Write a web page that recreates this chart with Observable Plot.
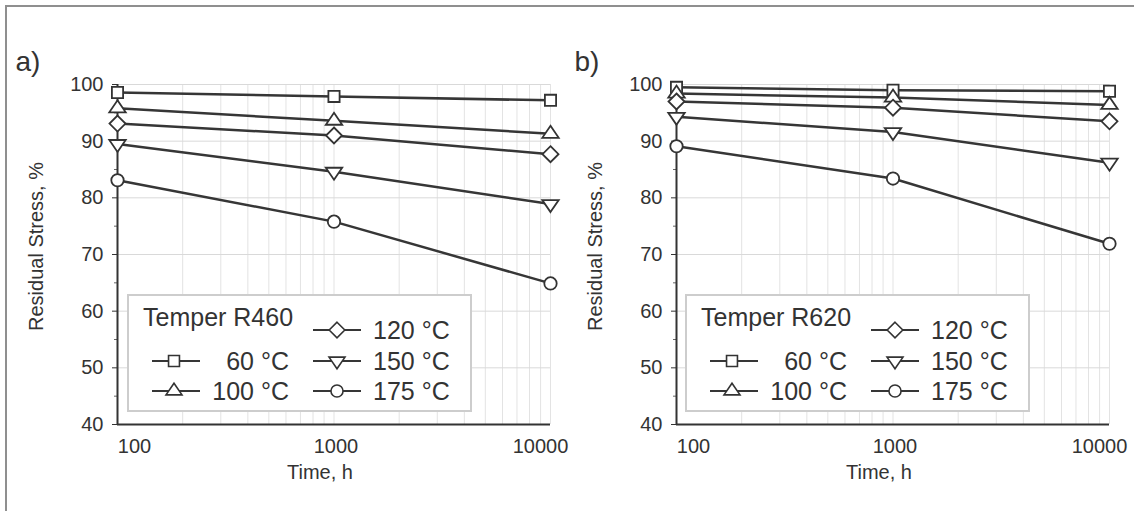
<!DOCTYPE html>
<html>
<head>
<meta charset="utf-8">
<script src="https://cdn.jsdelivr.net/npm/d3@7"></script>
<script src="https://cdn.jsdelivr.net/npm/@observablehq/plot@0.6"></script>
<style>
  html, body { margin: 0; padding: 0; background: #fff; }
  #wrap { position: relative; width: 1134px; height: 511px; overflow: hidden; background: #fff;
          font-family: "Liberation Sans", Arial, sans-serif; color: #333; }
  #wrap > svg { position: absolute; top: 0; }
  .frame { position: absolute; left: 5px; top: 5px; width: 1200px; height: 600px;
           border-left: 2px solid #8f8f8f; border-top: 2px solid #8f8f8f; pointer-events: none; }
</style>
</head>
<body>
<div id="wrap"></div>
<script>
// ---------------- data ----------------
const times = [100, 1000, 10000];
const temps = ["60 °C", "100 °C", "120 °C", "150 °C", "175 °C"];

// Temper R460 (panel a)
const r460_60  = [98.6, 97.9, 97.2];
const r460_100 = [95.8, 93.6, 91.3];
const r460_120 = [93.1, 91.0, 87.7];
const r460_150 = [89.5, 84.6, 78.9];
const r460_175 = [83.1, 75.8, 64.9];

// Temper R620 (panel b)
const r620_60  = [99.5, 99.0, 98.8];
const r620_100 = [98.4, 97.7, 96.4];
const r620_120 = [97.0, 95.9, 93.5];
const r620_150 = [94.3, 91.6, 86.2];
const r620_175 = [89.1, 83.4, 71.9];

const yTicks = [40, 50, 60, 70, 80, 90, 100];
const yMinorTicks = [45, 55, 65, 75, 85, 95];
const xTicks = [100, 1000, 10000];
const xTickLabels = ["100", "1000", "10000"];
const panelTags = ["a)", "b)"];
const legendTitles = ["Temper R460", "Temper R620"];
const xLabel = "Time, h";
const yLabel = "Residual Stress, %";

// ---------------- helpers ----------------
const FONT = '"Liberation Sans", Arial, sans-serif';
const INK = "#333";
const BASE = Math.PI * 36; // symbol area for r = 6
const kOf = size => Math.sqrt(size / BASE);
const symSquare = {draw(c, size) { const h = 5.6 * kOf(size); c.rect(-h, -h, 2 * h, 2 * h); }};
const symTriUp = {draw(c, size) { const k = kOf(size);
  c.moveTo(0, -8 * k); c.lineTo(8.2 * k, 4 * k); c.lineTo(-8.2 * k, 4 * k); c.closePath(); }};
const symTriDown = {draw(c, size) { const k = kOf(size);
  c.moveTo(0, 8 * k); c.lineTo(8.2 * k, -4 * k); c.lineTo(-8.2 * k, -4 * k); c.closePath(); }};
const symDiamond = {draw(c, size) { const h = 8 * kOf(size);
  c.moveTo(0, -h); c.lineTo(h, 0); c.lineTo(0, h); c.lineTo(-h, 0); c.closePath(); }};
const symCircle = {draw(c, size) { const r = 6.2 * kOf(size); c.moveTo(r, 0); c.arc(0, 0, r, 0, 2 * Math.PI); }};
const symbolRange = [symSquare, symTriUp, symDiamond, symTriDown, symCircle];

const xGrid = [];
for (const dec of [100, 1000]) for (let k = 2; k <= 10; k++) xGrid.push(k * dec);
const xTickDx = [17, 2, -10];

function panel(series, tag, width, marginLeft, marginRight) {
  const rows = series.flatMap((vals, i) =>
    vals.map((v, j) => ({time: times[j], stress: v, temp: temps[i]})));
  return Plot.plot({
    width, height: 511,
    marginLeft, marginRight, marginTop: 84, marginBottom: 87,
    style: {fontFamily: FONT, fontSize: "20px", color: INK, background: "transparent", overflow: "visible"},
    x: {type: "log", domain: [100, 10000]},
    y: {domain: [40, 100]},
    symbol: {domain: temps, range: symbolRange},
    marks: [
      Plot.gridX(xGrid, {stroke: "#e3e3e3", strokeOpacity: 1, strokeWidth: 1}),
      Plot.gridY(yTicks, {stroke: "#d9d9d9", strokeOpacity: 1, strokeWidth: 1}),
      Plot.axisY(yTicks, {tickSize: 5, tickPadding: 9, label: null, stroke: INK, fill: INK}),
      Plot.axisY(yMinorTicks, {tickSize: 3, tickFormat: () => "", label: null, stroke: "#666"}),
      ...xTicks.map((t, i) => Plot.axisX([t], {
        tickSize: 0, tickPadding: 14, dx: xTickDx[i], label: null, fill: INK,
        tickFormat: () => xTickLabels[i]
      })),
      Plot.ruleX([100], {stroke: INK, strokeWidth: 2}),
      Plot.ruleY([40], {stroke: INK, strokeWidth: 2}),
      Plot.line(rows, {x: "time", y: "stress", z: "temp", stroke: "#363636", strokeWidth: 2.5}),
      Plot.dot(rows, {x: "time", y: "stress", symbol: "temp", r: 6, fill: "white", stroke: INK, strokeWidth: 1.8}),
      Plot.text([tag], {frameAnchor: "top-left", textAnchor: "start", lineAnchor: "middle",
        dx: -102, dy: -22, fontSize: 28, fill: INK}),
      Plot.text([xLabel], {frameAnchor: "bottom", textAnchor: "middle", lineAnchor: "middle",
        dx: -14, dy: 48, fontSize: 20, fill: INK}),
      Plot.text([yLabel], {frameAnchor: "left", textAnchor: "middle", rotate: -90, lineAnchor: "middle",
        dx: -81, dy: -8, fontSize: 20, fill: INK})
    ]
  });
}

function legend(title, left) {
  const W = 345, H = 118;
  const svg = d3.create("svg").attr("width", W).attr("height", H)
    .style("left", (left - 1) + "px").style("top", "294px")
    .style("font-family", FONT).style("overflow", "visible");
  svg.append("rect").attr("x", 1).attr("y", 1).attr("width", W - 2).attr("height", H - 2)
    .attr("fill", "white").attr("stroke", "#cdcdcd").attr("stroke-width", 2);
  svg.append("text").attr("x", 16).attr("y", 32).attr("font-size", 25).attr("fill", INK).text(title);
  // layout (col, row) for each series in the legend
  const layout = [[0, 1], [0, 2], [1, 0], [1, 1], [1, 2]];
  const rowY = [36, 67, 97];
  const col = [{x1: 25, x2: 73, mx: 47, tx: 162, anchor: "end"},
               {x1: 186, x2: 234, mx: 210, tx: 246, anchor: "start"}];
  temps.forEach((t, i) => {
    const [c, r] = layout[i];
    const y = rowY[r], C = col[c];
    svg.append("line").attr("x1", C.x1).attr("x2", C.x2).attr("y1", y).attr("y2", y)
      .attr("stroke", "#363636").attr("stroke-width", 2.2);
    const sym = d3.symbol().type(symbolRange[i]).size(BASE * 0.95);
    svg.append("path").attr("d", sym()).attr("transform", `translate(${C.mx},${y})`)
      .attr("fill", "white").attr("stroke", INK).attr("stroke-width", 1.6);
    svg.append("text").attr("x", C.tx).attr("y", y + 9).attr("text-anchor", C.anchor)
      .attr("font-size", 25).attr("fill", INK).text(t);
  });
  return svg.node();
}

const wrap = document.getElementById("wrap");
const left = panel([r460_60, r460_100, r460_120, r460_150, r460_175], panelTags[0], 570, 117, 20);
left.style.left = "0px";
const right = panel([r620_60, r620_100, r620_120, r620_150, r620_175], panelTags[1], 564, 106, 25);
right.style.left = "570px";
wrap.appendChild(left);
wrap.appendChild(right);
wrap.appendChild(legend(legendTitles[0], 128));
wrap.appendChild(legend(legendTitles[1], 686));
const frame = document.createElement("div");
frame.className = "frame";
wrap.appendChild(frame);
</script>
</body>
</html>
